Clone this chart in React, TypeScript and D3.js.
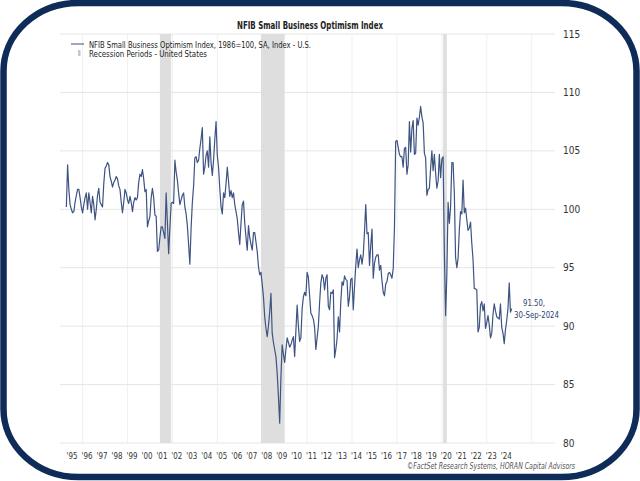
import React from "react";
import * as d3 from "d3";

// Monthly NFIB Small Business Optimism Index, starting Dec 1994
const startYear = 1994;
const startMonth = 11; // December (0-based)

const values1990s = [
  100.2,
  103.8, 101.7, 100.4, 100.0, 99.7, 99.8, 100.6, 101.2, 101.7, 101.7, 101.0, 100.2,
  99.7, 100.4, 101.0, 101.4, 100.0, 101.4, 100.6, 99.7, 101.1, 100.4, 99.1, 100.0,
  101.2, 101.8, 100.6, 100.4, 100.2, 102.2, 103.5, 103.7, 104.0, 103.8, 102.8, 102.4,
  101.9, 102.3, 102.5, 102.8, 102.6, 102.0, 101.7, 100.6, 99.7, 100.6, 101.7, 101.4,
  100.8, 100.5, 101.1, 100.6, 99.8, 100.6, 101.0, 100.8, 101.0, 102.3, 103.0, 102.8,
];
const values2000s = [
  103.4, 102.6, 101.5, 101.7, 98.5, 99.0, 99.4, 101.0, 101.8, 101.0, 99.5, 99.4,
  96.4, 96.5, 97.6, 98.5, 98.5, 98.0, 97.5, 101.4, 98.9, 96.2, 98.4, 100.5,
  100.6, 100.5, 104.2, 103.2, 102.5, 101.4, 100.4, 100.8, 101.2, 101.4, 100.2, 99.6,
  98.6, 97.0, 95.3, 98.4, 100.6, 102.0, 104.4, 104.5, 104.0, 104.2, 105.2, 106.0,
  107.0, 103.0, 103.6, 104.6, 105.0, 103.6, 106.2, 104.0, 102.9, 104.2, 106.0, 107.5,
  104.6, 103.6, 101.8, 100.2, 99.6, 101.4, 101.0, 102.2, 103.6, 102.4, 101.1, 101.6,
  101.0, 101.4, 100.4, 99.8, 99.2, 98.0, 97.0, 98.8, 100.4, 100.7, 98.8, 97.6,
  96.5, 98.6, 97.6, 97.0, 96.5, 98.0, 98.0, 97.2, 96.4, 95.1, 94.4, 94.6,
  93.6, 92.5, 90.8, 89.8, 89.1, 90.0, 91.2, 92.8, 89.4, 88.6, 88.0, 87.4,
  86.0, 84.0, 81.7, 85.6, 88.4, 87.6, 86.9, 88.0, 89.0, 88.6, 88.2, 88.4,
];
const values2010s = [
  88.8, 89.1, 87.4, 89.6, 91.8, 90.0, 88.7, 89.0, 91.5, 92.5, 92.9, 92.6,
  94.6, 94.2, 92.6, 91.1, 90.9, 90.6, 89.9, 88.0, 89.0, 90.0, 92.0, 93.7,
  94.4, 94.1, 93.1, 94.1, 94.4, 91.7, 91.4, 92.9, 92.8, 93.1, 87.3, 88.0,
  88.9, 90.8, 89.5, 92.1, 93.8, 93.5, 94.3, 94.0, 93.9, 91.7, 92.5, 94.0,
  94.1, 91.4, 93.4, 95.2, 96.6, 95.0, 95.7, 96.1, 95.3, 96.1, 98.1, 100.4,
  97.9, 98.0, 95.2, 96.9, 98.3, 94.1, 95.4, 95.9, 96.1, 96.1, 94.8, 95.2,
  93.9, 92.9, 92.6, 93.6, 93.8, 94.5, 94.6, 94.4, 94.1, 94.9, 98.4, 105.8,
  105.9, 105.3, 104.7, 104.5, 104.5, 103.6, 105.2, 105.3, 103.0, 103.8, 107.5, 104.9,
  106.9, 107.6, 104.7, 104.8, 107.8, 107.2, 107.9, 108.8, 107.9, 107.4, 104.8, 104.4,
  101.2, 101.7, 101.8, 103.5, 105.0, 103.3, 104.7, 103.1, 101.8, 102.4, 104.7, 102.7,
];
const values2020s = [
  104.3, 104.5, 96.4, 90.9, 94.4, 100.6, 98.8, 100.2, 104.0, 104.0, 101.4, 95.9,
  95.0, 95.8, 98.2, 99.8, 99.6, 102.5, 99.7, 100.1, 99.1, 98.2, 98.4, 98.9,
  97.1, 95.7, 93.2, 93.2, 93.1, 89.5, 89.9, 91.8, 92.1, 91.3, 91.9, 89.8,
  90.3, 90.9, 90.1, 89.0, 89.4, 91.0, 91.9, 91.3, 90.8, 90.7, 90.6, 91.9,
  89.9, 89.4, 88.5, 89.7, 90.5, 91.5, 93.7, 91.2, 91.5,
];

// Recession periods (fractional years)
const recessionStarts = [2001 + 2 / 12, 2007 + 11 / 12, 2020 + 1 / 12];
const recessionEnds = [2001 + 11 / 12, 2009 + 6 / 12, 2020 + 4 / 12];

const yTicks = [80, 85, 90, 95, 100, 105, 110, 115];
const xTickYears = d3.range(1995, 2025);
const xGridYears = d3.range(1996, 2027, 3);

const titleText = "NFIB Small Business Optimism Index";
const legendLine = "NFIB Small Business Optimism Index, 1986=100, SA, Index - U.S.";
const legendRecession = "Recession Periods - United States";
const lastLabel1 = "91.50,";
const lastLabel2 = "30-Sep-2024";
const footerText = "\u00A9FactSet Research Systems, HORAN Capital Advisors";

const FONT = "'Liberation Sans Narrow', 'DejaVu Sans Condensed', 'Roboto', Arial, sans-serif";
const NAVY = "#0f2b58";
const LINE = "#3d5381";

export default function App() {
  React.useEffect(() => {
    document.body.style.margin = "0";
  }, []);

  const allValues = [...values1990s, ...values2000s, ...values2010s, ...values2020s];
  const data = allValues.map((v, i) => ({ t: startYear + (startMonth + i) / 12, v }));

  const x = d3.scaleLinear().domain([1995, 2025]).range([67.6, 516.7]);
  const y = d3.scaleLinear().domain([80, 115]).range([443, 34]);
  const left = 60;
  const right = 555;

  const line = d3
    .line<{ t: number; v: number }>()
    .x((d) => x(d.t))
    .y((d) => y(d.v));

  return (
    <svg
      width={640}
      height={481}
      style={{ position: "absolute", left: 0, top: 0, display: "block" }}
      fontFamily={FONT}
    >
      <rect x={0} y={0} width={640} height={481} fill="#ffffff" />
      {/* frame */}
      <rect
        x={3.5}
        y={3}
        width={633}
        height={474}
        rx={75}
        ry={68}
        fill="#ffffff"
        stroke={NAVY}
        strokeWidth={6.5}
      />

      {/* vertical grid */}
      {xGridYears.map((yr) => (
        <line
          key={"vg" + yr}
          x1={x(yr)}
          x2={x(yr)}
          y1={y(115)}
          y2={y(80)}
          stroke="#f0f0f0"
          strokeWidth={1}
        />
      ))}
      {/* horizontal grid */}
      {yTicks.map((t) => (
        <line
          key={"hg" + t}
          x1={left}
          x2={right}
          y1={y(t)}
          y2={y(t)}
          stroke="#e6e6e6"
          strokeWidth={1}
        />
      ))}

      {/* recession bars */}
      {recessionStarts.map((s, i) => (
        <rect
          key={"rec" + i}
          x={x(s)}
          y={y(115)}
          width={Math.max(x(recessionEnds[i]) - x(s), 3)}
          height={y(80) - y(115)}
          fill="#dedede"
        />
      ))}

      {/* title & legend */}
      <text
        x={310}
        y={29}
        textAnchor="middle"
        fontSize={11}
        fontWeight="bold"
        fill="#222"
        textLength={146}
        lengthAdjust="spacingAndGlyphs"
      >
        {titleText}
      </text>
      <line x1={71} x2={84} y1={44} y2={44} stroke={LINE} strokeWidth={1} />
      <text x={89} y={47.5} fontSize={9.5} fill="#222" textLength={222} lengthAdjust="spacingAndGlyphs">
        {legendLine}
      </text>
      <rect x={78} y={50} width={2.5} height={6} fill="#c8c8c8" />
      <text x={89} y={57} fontSize={9.5} fill="#222" textLength={118} lengthAdjust="spacingAndGlyphs">
        {legendRecession}
      </text>

      {/* series */}
      <path d={line(data) || ""} fill="none" stroke={LINE} strokeWidth={1.2} strokeLinejoin="round" />

      {/* last value label */}
      <text x={534} y={306} textAnchor="middle" fontSize={9.5} fill="#2b426e" textLength={22} lengthAdjust="spacingAndGlyphs">
        {lastLabel1}
      </text>
      <text x={514} y={317.5} fontSize={9.5} fill="#2b426e" textLength={45} lengthAdjust="spacingAndGlyphs">
        {lastLabel2}
      </text>

      {/* y axis labels (right) */}
      {yTicks.map((t) => (
        <text key={"yl" + t} x={563} y={y(t) + 3.5} fontSize={10} fill="#333">
          {t}
        </text>
      ))}

      {/* x axis labels */}
      {xTickYears.map((yr) => (
        <text
          key={"xl" + yr}
          x={x(yr + 0.3)}
          y={459}
          textAnchor="middle"
          fontSize={9.5}
          fill="#333"
          textLength={11}
          lengthAdjust="spacingAndGlyphs"
        >
          {"'" + String(yr).slice(2)}
        </text>
      ))}

      {/* footer */}
      <text x={575} y={469} textAnchor="end" fontSize={9} fontStyle="italic" fill="#555" textLength={168} lengthAdjust="spacingAndGlyphs">
        {footerText}
      </text>
    </svg>
  );
}
